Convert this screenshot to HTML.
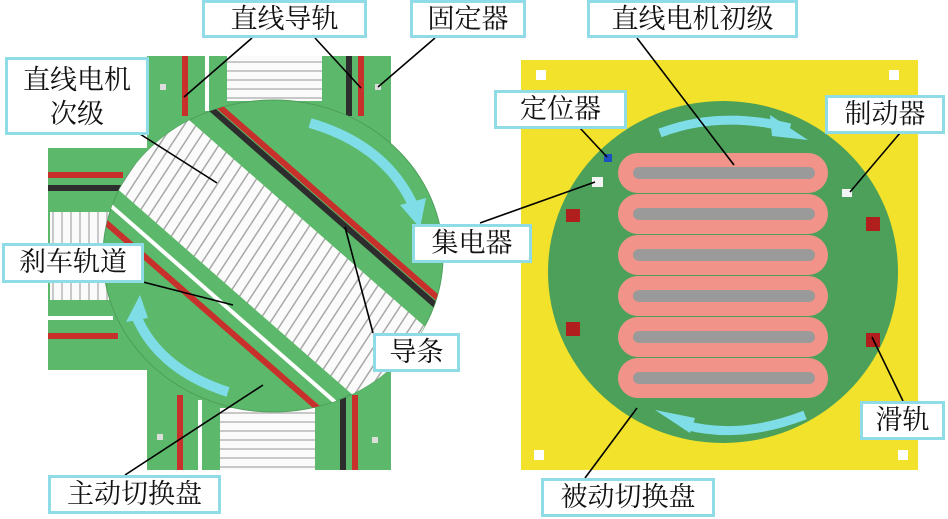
<!DOCTYPE html>
<html><head><meta charset="utf-8"><style>
body{margin:0;background:#fff;width:948px;height:519px;overflow:hidden}
.lb{position:absolute;background:#fff;border:3px solid #8fdce6;box-sizing:border-box;font-family:"Liberation Serif","Noto Serif CJK SC",serif;font-size:27px;color:#111;text-align:center;line-height:32px}
</style></head><body>
<svg width="948" height="519" style="position:absolute;left:0;top:0">
<defs>
<clipPath id="cc"><ellipse cx="273" cy="256" rx="170" ry="156"/></clipPath>
<pattern id="rollV" width="9" height="10" patternUnits="userSpaceOnUse"><rect width="9" height="10" fill="#fafafa"/><rect x="7" width="2" height="10" fill="#c8c8c8"/></pattern>
<pattern id="rollH" width="10" height="9" patternUnits="userSpaceOnUse"><rect width="10" height="9" fill="#fafafa"/><rect y="7" width="10" height="2" fill="#c8c8c8"/></pattern>
<pattern id="strp" width="10" height="10" patternUnits="userSpaceOnUse" patternTransform="rotate(-8)"><rect width="10" height="10" fill="#fbfbfb"/><rect x="8" width="1.5" height="10" fill="#a8a8a8"/></pattern>
</defs>
<rect x="147" y="56" width="244" height="414" fill="#5cb86a"/>
<rect x="48" y="148" width="120" height="222" fill="#5cb86a"/>
<rect x="182" y="56" width="6" height="60" fill="#c8302c"/>
<rect x="205" y="56" width="4" height="55" fill="#fff"/>
<rect x="227" y="56" width="95" height="45" fill="url(#rollH)"/>
<rect x="346" y="56" width="6" height="60" fill="#2d2d2d"/>
<rect x="358" y="56" width="6" height="60" fill="#c8302c"/>
<rect x="160" y="84" width="6" height="6" fill="#ddd"/><rect x="375" y="84" width="6" height="6" fill="#ddd"/>
<rect x="177" y="395" width="6" height="75" fill="#c8302c"/>
<rect x="198" y="400" width="4" height="70" fill="#fff"/>
<rect x="220" y="408" width="95" height="62" fill="url(#rollH)"/>
<rect x="340" y="395" width="6" height="75" fill="#2d2d2d"/>
<rect x="352" y="395" width="6" height="75" fill="#c8302c"/>
<rect x="157" y="434" width="6" height="6" fill="#ddd"/><rect x="372" y="437" width="6" height="6" fill="#ddd"/>
<rect x="48" y="172" width="75" height="6" fill="#c8302c"/>
<rect x="48" y="185" width="75" height="6" fill="#2d2d2d"/>
<rect x="50" y="212" width="60" height="88" fill="url(#rollV)"/>
<rect x="48" y="316" width="65" height="4" fill="#fff"/>
<rect x="48" y="333" width="70" height="6" fill="#c8302c"/>
<ellipse cx="273" cy="256" rx="170" ry="156" fill="#5cb86a" stroke="#4e9e5c" stroke-width="1"/>
<g clip-path="url(#cc)"><g transform="rotate(41.2 273 256)">
<rect x="50" y="176" width="450" height="6" fill="#c8302c"/>
<rect x="50" y="183" width="450" height="6" fill="#2d2d2d"/>
<rect x="50" y="209" width="450" height="99" fill="url(#strp)"/>
<rect x="50" y="323" width="450" height="4" fill="#fff"/>
<rect x="50" y="338" width="450" height="6" fill="#c8302c"/>
</g></g>
<path d="M310 123 Q385 145 413 205" stroke="#7fdde8" stroke-width="10" fill="none"/>
<polygon points="400,205 426,198 420,228" fill="#7fdde8"/>
<path d="M228 392 Q160 370 137 318" stroke="#7fdde8" stroke-width="10" fill="none"/>
<polygon points="126,322 148,318 140,295" fill="#7fdde8"/>
<rect x="521" y="60" width="397" height="410" fill="#f2e22b"/>
<ellipse cx="723" cy="272" rx="175" ry="171" fill="#4ca05a"/>
<g fill="#f2938a">
<rect x="618" y="153" width="210" height="40" rx="20"/>
<rect x="618" y="194" width="210" height="40" rx="20"/>
<rect x="618" y="235" width="210" height="40" rx="20"/>
<rect x="618" y="276" width="210" height="40" rx="20"/>
<rect x="618" y="317" width="210" height="40" rx="20"/>
<rect x="618" y="358" width="210" height="40" rx="20"/>
</g>
<g fill="#9a9a9a">
<rect x="633" y="167" width="182" height="12" rx="6"/>
<rect x="633" y="208" width="182" height="12" rx="6"/>
<rect x="633" y="249" width="182" height="12" rx="6"/>
<rect x="633" y="290" width="182" height="12" rx="6"/>
<rect x="633" y="331" width="182" height="12" rx="6"/>
<rect x="633" y="372" width="182" height="12" rx="6"/>
</g>
<path d="M660 133 Q720 110 790 128" stroke="#7fdde8" stroke-width="9" fill="none"/>
<polygon points="770,115 808,140 772,136" fill="#7fdde8"/>
<path d="M805 415 Q740 440 685 425" stroke="#7fdde8" stroke-width="9" fill="none"/>
<polygon points="655,410 695,418 690,433" fill="#7fdde8"/>
<rect x="604" y="154" width="8" height="8" fill="#1c4fbf"/>
<rect x="592" y="177" width="11" height="10" fill="#f4f4f4"/>
<rect x="842" y="189" width="10" height="8" fill="#f4f4f4"/>
<g fill="#b01e1e"><rect x="566" y="209" width="14" height="13"/><rect x="866" y="217" width="14" height="14"/><rect x="566" y="322" width="14" height="14"/><rect x="866" y="333" width="14" height="14"/></g>
<g fill="#fff"><rect x="536" y="70" width="10" height="10"/><rect x="889" y="70" width="10" height="10"/><rect x="534" y="450" width="10" height="10"/><rect x="898" y="450" width="10" height="10"/></g>
<g stroke="#000" stroke-width="1.6">
<line x1="252" y1="38" x2="184" y2="97"/><line x1="315" y1="38" x2="361" y2="88"/>
<line x1="435" y1="38" x2="378" y2="87"/>
<line x1="140" y1="134" x2="217" y2="183"/>
<line x1="143" y1="282" x2="233" y2="305"/>
<line x1="480" y1="223" x2="595" y2="182"/>
<line x1="373" y1="333" x2="345" y2="227"/>
<line x1="125" y1="475" x2="263" y2="385"/>
<line x1="637" y1="38" x2="734" y2="165"/>
<line x1="580" y1="128" x2="607" y2="157"/>
<line x1="900" y1="133" x2="850" y2="192"/>
<line x1="903" y1="401" x2="872" y2="337"/>
<line x1="585" y1="478" x2="637" y2="408"/>
</g>
</svg>
<div class="lb" style="left:202px;top:0;width:165px;height:38px">直线导轨</div>
<div class="lb" style="left:410px;top:0;width:116px;height:38px">固定器</div>
<div class="lb" style="left:5px;top:57px;width:144px;height:78px;line-height:34px;padding-top:3px">直线电机<br>次级</div>
<div class="lb" style="left:2px;top:243px;width:142px;height:40px">刹车轨道</div>
<div class="lb" style="left:412px;top:224px;width:120px;height:39px">集电器</div>
<div class="lb" style="left:373px;top:333px;width:87px;height:39px">导条</div>
<div class="lb" style="left:48px;top:475px;width:173px;height:39px">主动切换盘</div>
<div class="lb" style="left:587px;top:0;width:211px;height:38px">直线电机初级</div>
<div class="lb" style="left:494px;top:90px;width:133px;height:39px">定位器</div>
<div class="lb" style="left:825px;top:95px;width:120px;height:39px">制动器</div>
<div class="lb" style="left:860px;top:401px;width:85px;height:39px">滑轨</div>
<div class="lb" style="left:541px;top:478px;width:174px;height:39px">被动切换盘</div>
</body></html>
